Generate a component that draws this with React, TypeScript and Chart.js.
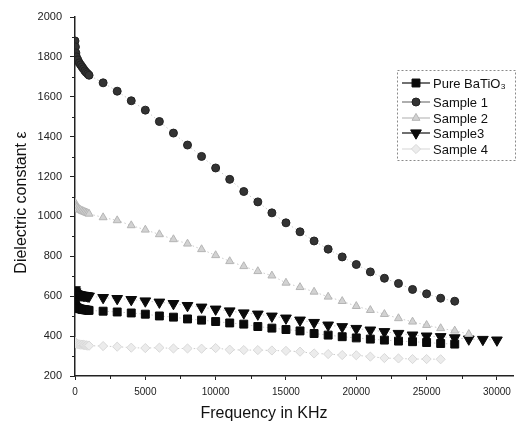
import React, { useEffect, useRef } from "react";
import { Chart, registerables } from "chart.js";

Chart.register(...registerables);

// ---- data ----
const lowFreq = [0, 30, 60, 100, 200, 300, 400, 500, 600, 700, 800, 900, 1000];
const freq = [2000, 3000, 4000, 5000, 6000, 7000, 8000, 9000, 10000, 11000, 12000, 13000, 14000, 15000, 16000, 17000, 18000, 19000, 20000, 21000, 22000, 23000, 24000, 25000, 26000, 27000, 28000, 29000, 30000];

const pureLow = [565, 555, 548, 545, 541, 538, 536, 534, 533, 532, 531, 530, 529];
const pureMain = [525, 521, 516, 510, 501, 495, 486, 480, 473, 466, 460, 448, 440, 433, 426, 413, 405, 397, 391, 385, 380, 375, 372, 368, 363, 360];

const s1Low = [1880, 1850, 1820, 1800, 1785, 1770, 1760, 1750, 1740, 1730, 1722, 1715, 1708];
const s1Main = [1670, 1628, 1580, 1533, 1476, 1418, 1358, 1301, 1243, 1186, 1125, 1073, 1018, 968, 923, 877, 836, 797, 759, 722, 690, 664, 634, 612, 590, 575];

const s2Low = [1070, 1055, 1048, 1045, 1040, 1036, 1032, 1028, 1025, 1022, 1019, 1016, 1013];
const s2Main = [995, 980, 955, 933, 910, 885, 863, 835, 805, 775, 750, 725, 703, 667, 645, 622, 597, 575, 550, 530, 510, 489, 472, 455, 439, 427, 410];

const s3Low = [632, 622, 615, 612, 610, 608, 606, 605, 604, 603, 602, 601, 600];
const s3Main = [593, 588, 583, 576, 570, 563, 553, 545, 535, 526, 516, 510, 500, 490, 480, 468, 455, 447, 438, 430, 422, 413, 405, 400, 397, 391, 385, 383, 380];

const s4Low = [372, 368, 365, 362, 360, 359, 358, 357, 356, 355, 354, 353, 352];
const s4Main = [350, 347, 342, 340, 342, 338, 338, 337, 340, 332, 330, 330, 328, 326, 322, 313, 310, 305, 304, 297, 290, 288, 285, 285, 284];

const seriesNames = ["Pure BaTiO\u2083", "Sample 1", "Sample 2", "Sample3", "Sample 4"];

const yTicks = [200, 400, 600, 800, 1000, 1200, 1400, 1600, 1800, 2000];
const xTicks = [0, 5000, 10000, 15000, 20000, 25000, 30000];

function pts(low: number[], main: number[]) {
  const a = low.map((v, i) => ({ x: lowFreq[i], y: v }));
  const b = main.map((v, i) => ({ x: freq[i], y: v }));
  return a.concat(b);
}

const FONT = "'Liberation Sans', Arial, Helvetica, sans-serif";

const styles = [
  { pointStyle: "rect", radius: 5.6, fill: "#0a0a0a", stroke: "#0a0a0a", rot: 0, legendLine: "#111" },
  { pointStyle: "circle", radius: 4.0, fill: "#333333", stroke: "#222222", rot: 0, legendLine: "#777" },
  { pointStyle: "triangle", radius: 4.6, fill: "#d2d2d2", stroke: "#b5b5b5", rot: 0, legendLine: "#bbb" },
  { pointStyle: "triangle", radius: 6.2, fill: "#0a0a0a", stroke: "#0a0a0a", rot: 180, legendLine: "#111" },
  { pointStyle: "rectRot", radius: 4.6, fill: "#ececec", stroke: "#d8d8d8", rot: 0, legendLine: "#ddd" },
];

function drawMarker(ctx: CanvasRenderingContext2D, kind: string, x: number, y: number, r: number, rot: number) {
  ctx.beginPath();
  if (kind === "rect") {
    const s = Math.SQRT1_2 * r;
    ctx.rect(x - s, y - s, 2 * s, 2 * s);
  } else if (kind === "circle") {
    ctx.arc(x, y, r, 0, Math.PI * 2);
  } else if (kind === "triangle") {
    let a = (rot * Math.PI) / 180;
    ctx.moveTo(x + Math.sin(a) * r, y - Math.cos(a) * r);
    a += (2 * Math.PI) / 3;
    ctx.lineTo(x + Math.sin(a) * r, y - Math.cos(a) * r);
    a += (2 * Math.PI) / 3;
    ctx.lineTo(x + Math.sin(a) * r, y - Math.cos(a) * r);
    ctx.closePath();
  } else if (kind === "rectRot") {
    ctx.moveTo(x, y - r);
    ctx.lineTo(x + r, y);
    ctx.lineTo(x, y + r);
    ctx.lineTo(x - r, y);
    ctx.closePath();
  }
  ctx.fill();
  ctx.stroke();
}

const extrasPlugin = {
  id: "extras",
  afterDraw(chart: any) {
    const ctx: CanvasRenderingContext2D = chart.ctx;
    const xs = chart.scales.x;
    const ys = chart.scales.y;
    const ca = chart.chartArea;
    ctx.save();
    // minor ticks
    ctx.strokeStyle = "#222";
    ctx.lineWidth = 1;
    ctx.beginPath();
    for (let v = 300; v < 2000; v += 200) {
      const py = Math.round(ys.getPixelForValue(v)) + 0.5;
      ctx.moveTo(ca.left - 3, py);
      ctx.lineTo(ca.left, py);
    }
    for (let v = 2500; v < 31000; v += 5000) {
      const px = Math.round(xs.getPixelForValue(v)) + 0.5;
      ctx.moveTo(px, ca.bottom);
      ctx.lineTo(px, ca.bottom + 3);
    }
    ctx.stroke();

    // axis titles
    ctx.fillStyle = "#111";
    ctx.font = "16px " + FONT;
    ctx.textAlign = "center";
    ctx.textBaseline = "middle";
    ctx.fillText("Frequency in KHz", ca.left + 189, ca.bottom + 38);
    ctx.save();
    ctx.translate(22, (ca.top + ca.bottom) / 2 + 6);
    ctx.rotate(-Math.PI / 2);
    ctx.fillText("Dielectric constant \u03b5", 0, 0);
    ctx.restore();

    // legend
    const bx = 397, by = 70, bw = 118, bh = 90;
    ctx.strokeStyle = "#8a8a8a";
    ctx.lineWidth = 1;
    ctx.setLineDash([2, 2]);
    ctx.strokeRect(bx + 0.5, by + 0.5, bw, bh);
    ctx.setLineDash([]);
    const rows = [83, 102, 118, 133, 149];
    ctx.font = "13px " + FONT;
    ctx.textAlign = "left";
    ctx.textBaseline = "middle";
    seriesNames.forEach((name, i) => {
      const st = styles[i];
      const yy = rows[i];
      ctx.strokeStyle = st.legendLine;
      ctx.lineWidth = 1.2;
      ctx.beginPath();
      ctx.moveTo(402, yy);
      ctx.lineTo(430, yy);
      ctx.stroke();
      ctx.fillStyle = st.fill;
      ctx.strokeStyle = st.stroke;
      ctx.lineWidth = 1;
      drawMarker(ctx, st.pointStyle, 416, yy, st.radius, st.rot);
      ctx.fillStyle = "#111";
      ctx.fillText(name, 433, yy + 1);
    });
    ctx.restore();
  },
};

export default function App() {
  const ref = useRef<HTMLCanvasElement | null>(null);
  useEffect(() => {
    if (!ref.current) return;
    const lows = [pureLow, s1Low, s2Low, s3Low, s4Low];
    const mains = [pureMain, s1Main, s2Main, s3Main, s4Main];
    const datasets = seriesNames.map((name, i) => ({
      label: name,
      data: pts(lows[i], mains[i]),
      showLine: true,
      borderColor: "#cccccc",
      borderWidth: 1,
      borderDash: [1.5, 2.5],
      pointStyle: styles[i].pointStyle,
      pointRadius: styles[i].radius,
      pointRotation: styles[i].rot,
      pointBackgroundColor: styles[i].fill,
      pointBorderColor: styles[i].stroke,
      pointBorderWidth: 1,
      fill: false,
    }));
    const chart = new Chart(ref.current, {
      type: "scatter",
      data: { datasets: datasets as any },
      options: {
        responsive: false,
        animation: false,
        layout: { padding: { top: 17, right: 2, left: 0, bottom: 0 } },
        plugins: { legend: { display: false }, tooltip: { enabled: false } },
        scales: {
          x: {
            type: "linear",
            min: 0,
            max: 31200,
            afterFit: (s: any) => { s.height = 59; },
            afterBuildTicks: (s: any) => { s.ticks = xTicks.map((v) => ({ value: v })); },
            ticks: { font: { family: FONT, size: 10 }, color: "#222", padding: 6, maxRotation: 0, autoSkip: false, callback: (v: any) => String(v) },
            grid: { display: true, drawOnChartArea: false, drawTicks: true, tickLength: 4, color: "#222" },
            border: { display: true, color: "#222", width: 1.5 },
          },
          y: {
            type: "linear",
            min: 200,
            max: 2000,
            afterFit: (s: any) => { s.width = 75; },
            afterBuildTicks: (s: any) => { s.ticks = yTicks.map((v) => ({ value: v })); },
            ticks: { font: { family: FONT, size: 11 }, color: "#222", padding: 8, autoSkip: false, callback: (v: any) => String(v) },
            grid: { display: true, drawOnChartArea: false, drawTicks: true, tickLength: 5, color: "#222" },
            border: { display: true, color: "#222", width: 1.5 },
          },
        },
      },
      plugins: [extrasPlugin],
    });
    return () => chart.destroy();
  }, []);
  return (
    <div style={{ position: "fixed", left: 0, top: 0, width: 521, height: 435, background: "#fff" }}>
      <canvas ref={ref} width={521} height={435} style={{ display: "block" }} />
    </div>
  );
}
